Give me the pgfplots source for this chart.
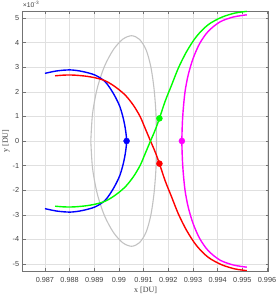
\documentclass[border=0pt]{standalone}
\usepackage{pgfplots}
\pgfplotsset{compat=1.18}
\usepackage{fontspec}
\setmainfont{Liberation Sans}
\newfontfamily\serif{Liberation Serif}
\definecolor{ggray}{rgb}{0.76,0.76,0.76}
\definecolor{fg}{rgb}{0.25,0.25,0.25}
\definecolor{mblue}{rgb}{0,0,1}
\definecolor{mred}{rgb}{1,0,0}
\definecolor{mgreen}{rgb}{0,1,0}
\definecolor{mmag}{rgb}{1,0,1}
\begin{document}
\begin{tikzpicture}
\begin{axis}[
  scale only axis, width=245.8bp, height=260bp,
  xmin=0.9861, xmax=0.99606, ymin=-5.285, ymax=5.285,
  xtick={0.987,0.988,0.989,0.990,0.991,0.992,0.993,0.994,0.995,0.996},
  xticklabels={0.987,0.988,0.989,0.99,0.991,0.992,0.993,0.994,0.995,0.996},
  ytick={-5,-4,-3,-2,-1,0,1,2,3,4,5},
  yticklabels={-5,-4,-3,-2,-1,0,1,2,3,4,5},
  grid=major, major grid style={black!12, line width=0.4bp},
  axis line style={black!55, line width=0.5bp},
  tick style={black!55, line width=0.4bp}, major tick length=3bp,
  tick align=inside,
  tick label style={font=\fontsize{7.3bp}{8bp}\selectfont, text=fg},
  xticklabel style={yshift=-3.2bp},
  xlabel={x [DU]}, ylabel={y [DU]},
  label style={font=\serif\fontsize{8bp}{9bp}\selectfont, text=fg},
  xlabel style={at={(axis description cs:0.5,-0.073)}, anchor=center},
  ylabel style={at={(axis description cs:-0.068,0.5)}, anchor=center},
]
% gray closed curve
\addplot[ggray, line width=1.1bp, smooth] coordinates {
(0.98886,0) (0.98893,-1.108) (0.98912,-2.14) (0.98941,-3.026) (0.98977,-3.707) (0.99015,-4.134) (0.99051,-4.28) (0.99083,-4.134) (0.99110,-3.707) (0.99129,-3.026) (0.99142,-2.14) (0.99150,-1.108) (0.99152,0) (0.99150,1.108) (0.99142,2.14) (0.99129,3.026) (0.99110,3.707) (0.99083,4.134) (0.99051,4.28) (0.99015,4.134) (0.98977,3.707) (0.98941,3.026) (0.98912,2.14) (0.98893,1.108) (0.98886,0)};
% blue
\addplot[mblue, line width=1.4bp, smooth] coordinates {
(0.98700,2.75) (0.98749,2.85) (0.98802,2.89) (0.98850,2.83) (0.98903,2.68) (0.98944,2.41) (0.98977,1.94) (0.99004,1.39) (0.99022,0.72) (0.99031,0) (0.99022,-0.72) (0.99004,-1.39) (0.98977,-1.94) (0.98944,-2.41) (0.98903,-2.68) (0.98850,-2.83) (0.98802,-2.89) (0.98749,-2.85) (0.98700,-2.75)};
% red
\addplot[mred, line width=1.4bp, smooth] coordinates {
(0.98741,2.65) (0.98780,2.68) (0.98815,2.68) (0.98862,2.64) (0.98903,2.57) (0.98944,2.45) (0.98984,2.21) (0.99025,1.87) (0.99058,1.46) (0.99086,0.99) (0.99106,0.52) (0.99127,0.02) (0.99147,-0.45) (0.99164,-0.92) (0.99187,-1.61) (0.99214,-2.29) (0.99241,-2.97) (0.99275,-3.65) (0.99315,-4.26) (0.99362,-4.73) (0.99416,-5.03) (0.99470,-5.20) (0.99518,-5.27)};
% green
\addplot[mgreen, line width=1.4bp, smooth] coordinates {
(0.98741,-2.65) (0.98780,-2.68) (0.98815,-2.68) (0.98862,-2.64) (0.98903,-2.57) (0.98944,-2.45) (0.98984,-2.21) (0.99025,-1.87) (0.99058,-1.46) (0.99086,-0.99) (0.99106,-0.52) (0.99127,-0.02) (0.99147,0.45) (0.99164,0.92) (0.99187,1.61) (0.99214,2.29) (0.99241,2.97) (0.99275,3.65) (0.99315,4.26) (0.99362,4.73) (0.99416,5.03) (0.99470,5.20) (0.99518,5.27)};
% magenta
\addplot[mmag, line width=1.4bp, smooth] coordinates {
(0.99518,-5.13) (0.99463,-5.04) (0.99409,-4.84) (0.99362,-4.46) (0.99328,-3.98) (0.99301,-3.37) (0.99281,-2.70) (0.99268,-2.02) (0.99261,-1.34) (0.99257,-0.73) (0.99255,0) (0.99257,0.73) (0.99261,1.34) (0.99268,2.02) (0.99281,2.70) (0.99301,3.37) (0.99328,3.98) (0.99362,4.46) (0.99409,4.84) (0.99463,5.04) (0.99518,5.13)};
% dots
\addplot[only marks, mark=*, mark size=3bp, mblue] coordinates {(0.99031,0)};
\addplot[only marks, mark=*, mark size=3bp, mgreen] coordinates {(0.99164,0.92)};
\addplot[only marks, mark=*, mark size=3bp, mred] coordinates {(0.99164,-0.92)};
\addplot[only marks, mark=*, mark size=3bp, mmag] coordinates {(0.99255,0)};
\end{axis}
\node[anchor=south west, inner sep=0pt, font=\fontsize{6.8bp}{7bp}\selectfont, text=fg] at ([yshift=3bp]current axis.north west) {×10\textsuperscript{-3}};
\pgfresetboundingbox
\path[use as bounding box] ([shift={(-22.7bp,-26bp)}]current axis.south west) rectangle ([shift={(9.5bp,11bp)}]current axis.north east);
\end{tikzpicture}
\end{document}
